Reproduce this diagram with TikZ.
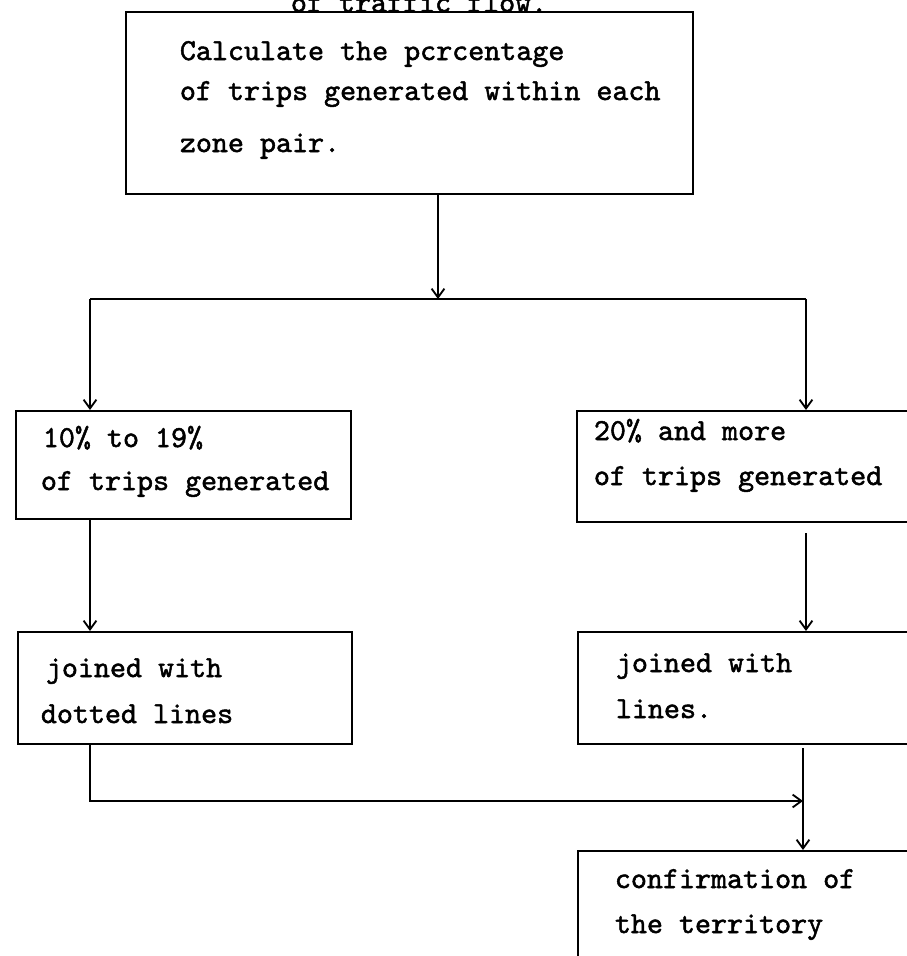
\documentclass[tikz,border=0pt]{standalone}
\usepackage{fontspec}
\newfontfamily\typewr{lmmono10-regular.otf}[FakeBold=1.6]
\usetikzlibrary{arrows.meta}

\begin{document}
\begin{tikzpicture}[x=0.025cm,y=-0.025cm,line width=1.3pt,
  >={Straight Barb[length=2.2mm,width=3.2mm]},
  box/.style={draw,rectangle,inner sep=0pt,anchor=north west},
  txt/.style={anchor=base west,inner sep=0pt,
    font=\fontsize{21.7}{26}\selectfont\typewr}]
\useasboundingbox (0,0) rectangle (907,956);
\clip (0,0) rectangle (907,956);
% boxes
\node[box,minimum width=14.175cm,minimum height=4.55cm] (calc) at (125,11) {};
\node[box,minimum width=8.375cm,minimum height=2.7cm] (low) at (15,410) {};
\node[box,minimum width=10cm,minimum height=2.775cm] (high) at (576,410) {};
\node[box,minimum width=8.35cm,minimum height=2.8cm] (dot) at (17,631) {};
\node[box,minimum width=10cm,minimum height=2.8cm] (solid) at (577,631) {};
\node[box,minimum width=10cm,minimum height=5cm] (conf) at (577,850) {};
% bends of the connectors
\coordinate (fork) at (438,299);
\coordinate (fl) at (90,299);
\coordinate (fr) at (806,299);
\coordinate (hs) at (806,533);
\coordinate (ls) at (803,748);
\coordinate (join) at (803,801);
\draw[->] (fork |- calc.south) -- (fork);
\draw (fl) -- (fr);
\draw[->] (fl) -- (fl |- low.north);
\draw[->] (fr) -- (fr |- high.north);
\draw[->] (fl |- low.south) -- (fl |- dot.north);
\draw[->] (hs) -- (hs |- solid.north);
\draw[->] (fl |- dot.south) -- (fl |- join) -- (join);
\draw[->] (ls) -- (join |- conf.north);
% texts
\node[txt] (flow) at (290,12) {of traffic flow.};
\node[txt] (calc1) at (179,60) {Calculate the pcrcentage};
\node[txt] (calc2) at (179,100) {of trips generated within each};
\node[txt] (calc3) at (179,152) {zone pair.};
\node[txt] (low1) at (42,447) {10\% to 19\%};
\node[txt] (low2) at (40,490) {of trips generated};
\node[txt] (high1) at (593,440) {20\% and more};
\node[txt] (high2) at (593,485) {of trips generated};
\node[txt] (dot1) at (45,677) {joined with};
\node[txt] (dot2) at (40,723) {dotted lines};
\node[txt] (solid1) at (615,672) {joined with};
\node[txt] (solid2) at (615,718) {lines.};
\node[txt] (conf1) at (614,888) {confirmation of};
\node[txt] (conf2) at (614,933) {the territory};
\end{tikzpicture}
\end{document}
